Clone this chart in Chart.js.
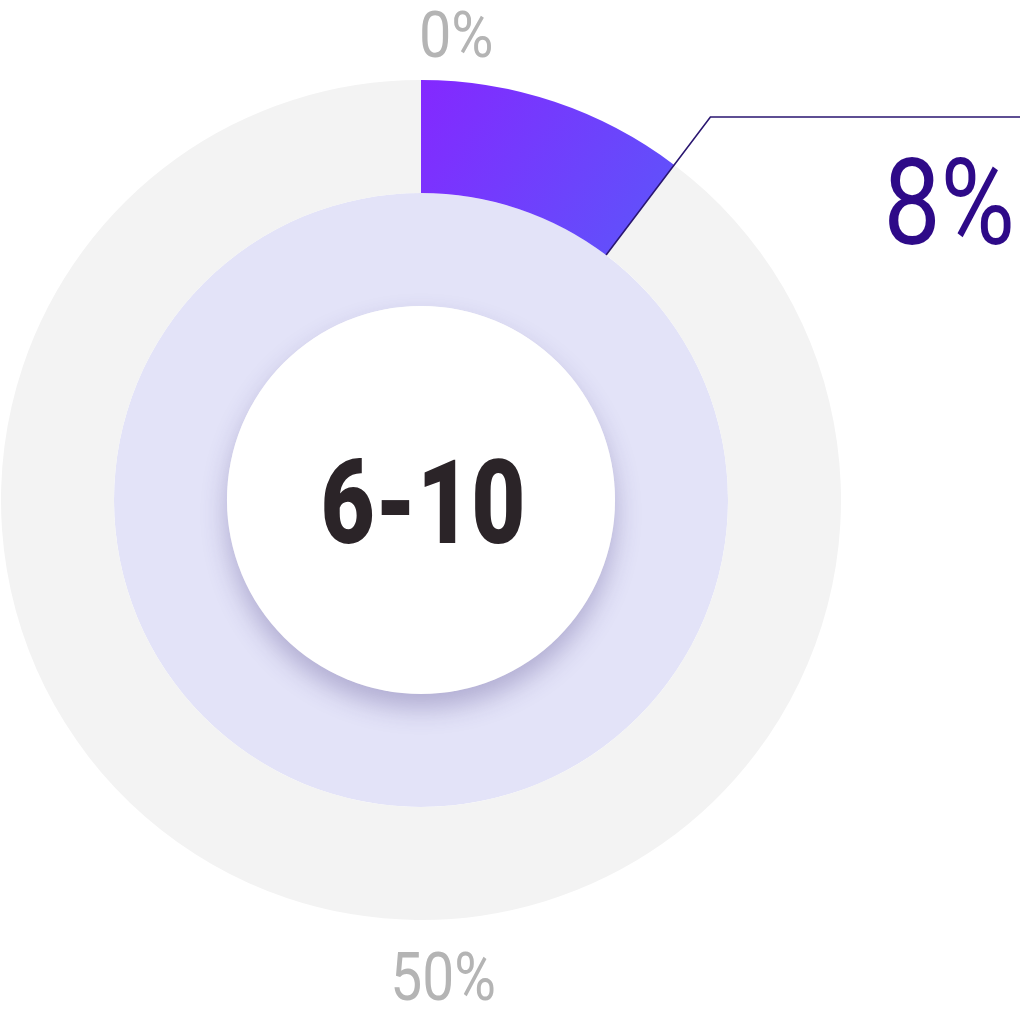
<!DOCTYPE html>
<html>
<head>
<meta charset="utf-8">
<script src="https://cdn.jsdelivr.net/npm/chart.js@4"></script>
<style>
  html, body { margin: 0; padding: 0; background: #fff; }
  #wrap { width: 1024px; height: 1015px; }
</style>
</head>
<body>
<div id="wrap"><canvas id="gauge" width="1024" height="1015"></canvas></div>
<script>
// values
const categories = ['share', 'rest'];
const arcValues = [10.3, 89.7];      // drawn arc (as % of the full circle)
const innerRing = [100];
const valueLabel = '8%';
const centerLabel = '6-10';
const tickLabels = ['0%', '50%'];

const font = 'Roboto, "Noto Sans", sans-serif';

// draw text squeezed horizontally to imitate a condensed face
function narrowText(ctx, text, x, y, align, sx) {
  ctx.save();
  ctx.translate(x, y);
  ctx.scale(sx, 1);
  ctx.textAlign = align;
  ctx.fillText(text, 0, 0);
  ctx.restore();
}

const overlay = {
  id: 'overlay',
  afterDatasetsDraw(chart) {
    const ctx = chart.ctx;
    const ring = chart.getDatasetMeta(1).data[0];
    const cx = ring.x, cy = ring.y;
    const holeR = ring.innerRadius;

    // white centre with soft drop shadow
    ctx.save();
    ctx.shadowColor = 'rgba(70, 60, 130, 0.32)';
    ctx.shadowBlur = 26;
    ctx.shadowOffsetY = 14;
    ctx.beginPath();
    ctx.arc(cx, cy, holeR, 0, Math.PI * 2);
    ctx.fillStyle = '#ffffff';
    ctx.fill();
    ctx.restore();

    // centre text
    ctx.save();
    ctx.fillStyle = '#2b2428';
    ctx.font = '900 117px ' + font;
    ctx.textBaseline = 'alphabetic';
    narrowText(ctx, centerLabel, cx + 2, cy + 43, 'center', 0.8);
    ctx.restore();

    // leader line from the end of the value slice
    const seg = chart.getDatasetMeta(0).data[0];
    const a = seg.endAngle;
    const r1 = seg.innerRadius, r2 = seg.outerRadius + 60;
    const x2 = cx + Math.cos(a) * r2, y2 = cy + Math.sin(a) * r2;
    ctx.save();
    ctx.strokeStyle = '#2a1670';
    ctx.lineWidth = 1.6;
    ctx.beginPath();
    ctx.moveTo(cx + Math.cos(a) * r1, cy + Math.sin(a) * r1);
    ctx.lineTo(x2, y2);
    ctx.lineTo(chart.width - 4, y2);
    ctx.stroke();

    ctx.fillStyle = '#2e0a88';
    ctx.font = '121px ' + font;
    ctx.textBaseline = 'alphabetic';
    narrowText(ctx, valueLabel, chart.width - 9, y2 + 127, 'right', 0.84);

    // scale labels at top and bottom
    ctx.fillStyle = '#b4b4b4';
    ctx.font = '64px ' + font;
    narrowText(ctx, tickLabels[0], cx - 2, seg.y - seg.outerRadius - 23, 'left', 0.9);
    ctx.font = '67px ' + font;
    narrowText(ctx, tickLabels[1], cx + 22, seg.y + seg.outerRadius + 80, 'center', 0.85);
    ctx.restore();
  }
};

const ctx = document.getElementById('gauge').getContext('2d');
new Chart(ctx, {
  type: 'doughnut',
  data: {
    labels: categories,
    datasets: [{
      data: arcValues,
      backgroundColor: (c) => {
        const area = c.chart.chartArea;
        if (!area) return '#7a3cff';
        if (c.dataIndex !== 0) return '#f3f3f3';
        const cx = (area.left + area.right) / 2;
        const g = c.chart.ctx.createLinearGradient(cx, area.top, cx + 250, area.top + 175);
        g.addColorStop(0, '#8428ff');
        g.addColorStop(1, '#5c56fa');
        return g;
      },
      borderWidth: 0
    }, {
      data: innerRing,
      backgroundColor: ['#e3e3f8'],
      borderWidth: 0
    }]
  },
  options: {
    responsive: false,
    animation: false,
    cutout: '46.2%',
    layout: { padding: { left: 1, right: 183, top: 80, bottom: 95 } },
    plugins: {
      legend: { display: false },
      tooltip: { enabled: false }
    }
  },
  plugins: [overlay]
});
</script>
</body>
</html>
